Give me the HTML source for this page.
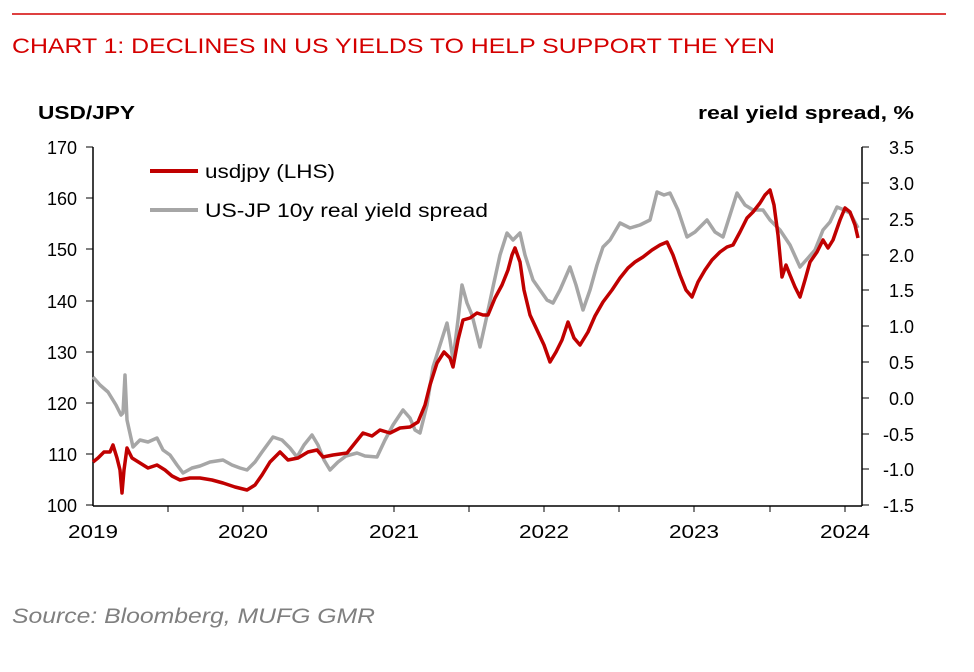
<!DOCTYPE html>
<html><head><style>
body{margin:0;background:#fff;}
svg text{font-family:"Liberation Sans",Arial,sans-serif;}
</style></head><body>
<svg width="974" height="667" viewBox="0 0 974 667" xmlns="http://www.w3.org/2000/svg">
<line x1="12" y1="14" x2="946" y2="14" stroke="#d40000" stroke-width="1.5"/>
<text x="12" y="53" font-size="21" fill="#d40000" textLength="763" lengthAdjust="spacingAndGlyphs">CHART 1: DECLINES IN US YIELDS TO HELP SUPPORT THE YEN</text>
<text x="38" y="119" font-size="18" font-weight="bold" textLength="97" lengthAdjust="spacingAndGlyphs">USD/JPY</text>
<text x="698" y="119" font-size="18" font-weight="bold" textLength="216" lengthAdjust="spacingAndGlyphs">real yield spread, %</text>
<g stroke="#000" stroke-width="1.5" fill="none">
<line x1="93" y1="147" x2="93" y2="506"/>
<line x1="93" y1="506" x2="862" y2="506"/>
<line x1="862" y1="147" x2="862" y2="506"/>
</g>
<g stroke="#000" stroke-width="1">
<line x1="86" y1="147" x2="93" y2="147"/><line x1="86" y1="198" x2="93" y2="198"/><line x1="86" y1="249" x2="93" y2="249"/><line x1="86" y1="301" x2="93" y2="301"/><line x1="86" y1="352" x2="93" y2="352"/><line x1="86" y1="403" x2="93" y2="403"/><line x1="86" y1="454" x2="93" y2="454"/><line x1="86" y1="505" x2="93" y2="505"/>
<line x1="862" y1="147" x2="869" y2="147"/><line x1="862" y1="183" x2="869" y2="183"/><line x1="862" y1="219" x2="869" y2="219"/><line x1="862" y1="255" x2="869" y2="255"/><line x1="862" y1="290" x2="869" y2="290"/><line x1="862" y1="326" x2="869" y2="326"/><line x1="862" y1="362" x2="869" y2="362"/><line x1="862" y1="398" x2="869" y2="398"/><line x1="862" y1="434" x2="869" y2="434"/><line x1="862" y1="469" x2="869" y2="469"/><line x1="862" y1="505" x2="869" y2="505"/>
<line x1="168" y1="506" x2="168" y2="512"/><line x1="243" y1="506" x2="243" y2="512"/><line x1="318" y1="506" x2="318" y2="512"/><line x1="394" y1="506" x2="394" y2="512"/><line x1="469" y1="506" x2="469" y2="512"/><line x1="544" y1="506" x2="544" y2="512"/><line x1="619" y1="506" x2="619" y2="512"/><line x1="694" y1="506" x2="694" y2="512"/><line x1="770" y1="506" x2="770" y2="512"/><line x1="845" y1="506" x2="845" y2="512"/>
</g>
<g font-size="18" text-anchor="end">
<text x="77" y="154">170</text><text x="77" y="205">160</text><text x="77" y="256">150</text><text x="77" y="308">140</text><text x="77" y="359">130</text><text x="77" y="410">120</text><text x="77" y="461">110</text><text x="77" y="512">100</text>
</g>
<g font-size="18" text-anchor="end">
<text x="914" y="154">3.5</text><text x="914" y="190">3.0</text><text x="914" y="226">2.5</text><text x="914" y="262">2.0</text><text x="914" y="297">1.5</text><text x="914" y="333">1.0</text><text x="914" y="369">0.5</text><text x="914" y="405">0.0</text><text x="914" y="441">-0.5</text><text x="914" y="476">-1.0</text><text x="914" y="512">-1.5</text>
</g>
<g font-size="18">
<text x="68" y="538" textLength="50" lengthAdjust="spacingAndGlyphs">2019</text><text x="218" y="538" textLength="50" lengthAdjust="spacingAndGlyphs">2020</text><text x="369" y="538" textLength="50" lengthAdjust="spacingAndGlyphs">2021</text><text x="519" y="538" textLength="50" lengthAdjust="spacingAndGlyphs">2022</text><text x="669" y="538" textLength="50" lengthAdjust="spacingAndGlyphs">2023</text><text x="820" y="538" textLength="50" lengthAdjust="spacingAndGlyphs">2024</text>
</g>
<polyline fill="none" stroke="#a6a6a6" stroke-width="3.5" stroke-linejoin="round" points="93,377 100,385 108,392 116,405 121,415 123,413 125,375 127,420 133,447 140,440 148,442 157,438 163,450 170,455 177,465 183,473 192,468 200,466 210,462 223,460 232,465 240,468 247,470 255,462 262,452 273,437 282,440 290,448 297,457 304,445 312,435 318,445 324,460 330,470 338,462 346,456 357,453 365,456 377,457 385,440 393,425 403,410 410,418 415,430 420,433 427,405 433,367 440,345 447,323 450,340 453,360 458,320 462,285 467,303 472,315 480,347 486,320 493,287 500,255 507,233 513,240 520,233 525,255 533,280 540,290 547,300 553,303 560,290 570,267 576,285 583,310 590,290 597,265 603,247 610,240 620,223 630,228 640,225 650,220 657,192 664,195 670,193 678,210 687,237 695,232 707,220 715,232 723,237 730,215 737,193 745,205 753,210 763,210 770,220 780,230 790,245 800,267 808,258 815,250 823,230 830,222 837,207 844,210 850,213 858,228"/>
<polyline fill="none" stroke="#c00000" stroke-width="3.5" stroke-linejoin="round" points="93,462 98,458 104,452 110,452 113,445 117,458 120,470 122,493 124,470 127,448 132,458 140,463 148,468 157,465 165,470 172,476 180,480 190,478 200,478 212,480 223,483 235,487 247,490 255,485 262,475 270,462 280,452 288,460 298,458 308,452 317,450 323,457 333,455 347,453 355,443 363,433 372,436 380,430 390,433 400,428 410,427 418,422 425,405 430,385 437,363 444,352 450,358 453,367 458,340 463,320 470,318 477,313 483,315 488,315 495,298 502,285 508,270 512,255 515,248 520,262 524,290 530,315 537,330 544,345 550,362 556,352 562,340 568,322 574,338 580,345 588,332 595,316 603,302 612,290 620,278 628,268 635,262 643,257 652,250 660,245 667,242 673,255 680,275 686,290 692,297 698,282 705,270 712,260 720,252 727,247 733,245 740,232 747,218 753,212 760,203 765,195 770,190 774,205 778,235 782,277 786,265 790,275 795,287 800,297 805,280 810,262 817,252 823,240 828,248 833,240 840,220 845,208 850,212 855,225 858,238"/>
<line x1="150" y1="171" x2="198" y2="171" stroke="#c00000" stroke-width="4"/>
<text x="205" y="178" font-size="19" textLength="130" lengthAdjust="spacingAndGlyphs">usdjpy (LHS)</text>
<line x1="150" y1="210" x2="198" y2="210" stroke="#a6a6a6" stroke-width="4"/>
<text x="205" y="217" font-size="19" textLength="283" lengthAdjust="spacingAndGlyphs">US-JP 10y real yield spread</text>
<text x="12" y="623" font-size="21" font-style="italic" fill="#7f7f7f" textLength="363" lengthAdjust="spacingAndGlyphs">Source: Bloomberg, MUFG GMR</text>
</svg>
</body></html>
